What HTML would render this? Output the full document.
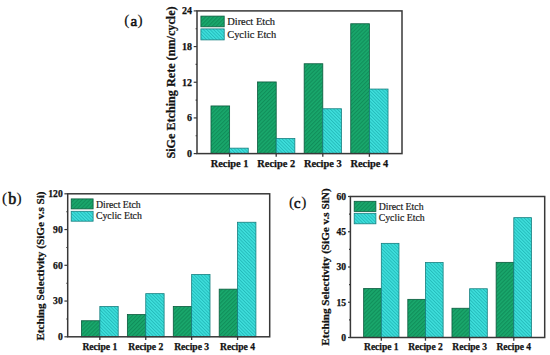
<!DOCTYPE html>
<html><head><meta charset="utf-8"><style>
html,body{margin:0;padding:0;background:#fff;width:550px;height:355px;overflow:hidden}
svg{display:block;font-family:"Liberation Serif", serif;fill:#111}
text{stroke:#111;stroke-width:0.25px}
</style></head><body>
<svg width="550" height="355" viewBox="0 0 550 355">
<defs>
<pattern id="hg" patternUnits="userSpaceOnUse" width="2.8" height="2.8" patternTransform="rotate(45)">
<rect width="2.8" height="2.8" fill="#19a86c"/><rect x="0" y="0" width="1.1" height="2.8" fill="#118e5a"/></pattern>
<pattern id="hc" patternUnits="userSpaceOnUse" width="2.4" height="2.4" patternTransform="rotate(-45)">
<rect width="2.4" height="2.4" fill="#3edfdc"/><rect x="0" y="0" width="0.9" height="2.4" fill="#24baba"/></pattern>
</defs>
<rect x="210.98" y="105.95" width="18.64" height="47.65" fill="url(#hg)" stroke="#0a5a3d" stroke-width="0.8"/>
<rect x="229.61" y="148.15" width="18.64" height="5.45" fill="url(#hc)" stroke="#167f7f" stroke-width="0.8"/>
<line x1="229.61" y1="153.6" x2="229.61" y2="156.8" stroke="#383838" stroke-width="1.3"/>
<text x="229.61" y="166.6" font-size="10.4" font-weight="bold" text-anchor="middle">Recipe 1</text>
<rect x="257.57" y="81.95" width="18.64" height="71.65" fill="url(#hg)" stroke="#0a5a3d" stroke-width="0.8"/>
<rect x="276.2" y="138.55" width="18.64" height="15.05" fill="url(#hc)" stroke="#167f7f" stroke-width="0.8"/>
<line x1="276.2" y1="153.6" x2="276.2" y2="156.8" stroke="#383838" stroke-width="1.3"/>
<text x="276.2" y="166.6" font-size="10.4" font-weight="bold" text-anchor="middle">Recipe 2</text>
<rect x="304.16" y="63.75" width="18.64" height="89.85" fill="url(#hg)" stroke="#0a5a3d" stroke-width="0.8"/>
<rect x="322.8" y="108.75" width="18.64" height="44.85" fill="url(#hc)" stroke="#167f7f" stroke-width="0.8"/>
<line x1="322.8" y1="153.6" x2="322.8" y2="156.8" stroke="#383838" stroke-width="1.3"/>
<text x="322.8" y="166.6" font-size="10.4" font-weight="bold" text-anchor="middle">Recipe 3</text>
<rect x="350.75" y="23.75" width="18.64" height="129.85" fill="url(#hg)" stroke="#0a5a3d" stroke-width="0.8"/>
<rect x="369.39" y="89.05" width="18.64" height="64.55" fill="url(#hc)" stroke="#167f7f" stroke-width="0.8"/>
<line x1="369.39" y1="153.6" x2="369.39" y2="156.8" stroke="#383838" stroke-width="1.3"/>
<text x="369.39" y="166.6" font-size="10.4" font-weight="bold" text-anchor="middle">Recipe 4</text>
<rect x="197" y="10.9" width="205" height="142.7" fill="none" stroke="#383838" stroke-width="1.5"/>
<line x1="193.7" y1="153.6" x2="197" y2="153.6" stroke="#383838" stroke-width="1.2"/>
<text x="192" y="157" font-size="10" font-weight="bold" text-anchor="end">0</text>
<line x1="195.6" y1="135.76" x2="197" y2="135.76" stroke="#383838" stroke-width="1.1"/>
<line x1="193.7" y1="117.92" x2="197" y2="117.92" stroke="#383838" stroke-width="1.2"/>
<text x="192" y="121.33" font-size="10" font-weight="bold" text-anchor="end">6</text>
<line x1="195.6" y1="100.09" x2="197" y2="100.09" stroke="#383838" stroke-width="1.1"/>
<line x1="193.7" y1="82.25" x2="197" y2="82.25" stroke="#383838" stroke-width="1.2"/>
<text x="192" y="85.65" font-size="10" font-weight="bold" text-anchor="end">12</text>
<line x1="195.6" y1="64.41" x2="197" y2="64.41" stroke="#383838" stroke-width="1.1"/>
<line x1="193.7" y1="46.58" x2="197" y2="46.58" stroke="#383838" stroke-width="1.2"/>
<text x="192" y="49.98" font-size="10" font-weight="bold" text-anchor="end">18</text>
<line x1="195.6" y1="28.74" x2="197" y2="28.74" stroke="#383838" stroke-width="1.1"/>
<line x1="193.7" y1="10.9" x2="197" y2="10.9" stroke="#383838" stroke-width="1.2"/>
<text x="192" y="14.3" font-size="10" font-weight="bold" text-anchor="end">24</text>
<rect x="200.9" y="16.1" width="23.3" height="10.7" fill="url(#hg)" stroke="#0a5a3d" stroke-width="0.8"/>
<rect x="200.9" y="28.9" width="23.3" height="11" fill="url(#hc)" stroke="#167f7f" stroke-width="0.8"/>
<text x="227.2" y="25.2" font-size="10.45" fill="#1a1a1a" style="stroke-width:0.18px">Direct Etch</text>
<text x="227.2" y="37.8" font-size="10.45" fill="#1a1a1a" style="stroke-width:0.18px">Cyclic Etch</text>
<text transform="translate(174.6,82.5) rotate(-90)" font-size="12" font-weight="bold" text-anchor="middle" textLength="152.2" lengthAdjust="spacingAndGlyphs">SiGe Etching Rete (nm/cycle)</text>
<text x="124.2" y="24.9" font-size="15.4" style="stroke-width:0.15px">(</text>
<text x="130.4" y="25.9" font-size="15" style="stroke-width:0.6px">a</text>
<text x="137.6" y="24.9" font-size="15.4" style="stroke-width:0.15px">)</text>
<rect x="81.47" y="320.75" width="18.36" height="16.05" fill="url(#hg)" stroke="#0a5a3d" stroke-width="0.8"/>
<rect x="99.84" y="306.55" width="18.36" height="30.25" fill="url(#hc)" stroke="#167f7f" stroke-width="0.8"/>
<line x1="99.84" y1="336.8" x2="99.84" y2="340" stroke="#383838" stroke-width="1.3"/>
<text x="99.84" y="350.1" font-size="9.6" font-weight="bold" text-anchor="middle">Recipe 1</text>
<rect x="127.38" y="314.55" width="18.36" height="22.25" fill="url(#hg)" stroke="#0a5a3d" stroke-width="0.8"/>
<rect x="145.75" y="293.65" width="18.36" height="43.15" fill="url(#hc)" stroke="#167f7f" stroke-width="0.8"/>
<line x1="145.75" y1="336.8" x2="145.75" y2="340" stroke="#383838" stroke-width="1.3"/>
<text x="145.75" y="350.1" font-size="9.6" font-weight="bold" text-anchor="middle">Recipe 2</text>
<rect x="173.29" y="306.45" width="18.36" height="30.35" fill="url(#hg)" stroke="#0a5a3d" stroke-width="0.8"/>
<rect x="191.65" y="274.55" width="18.36" height="62.25" fill="url(#hc)" stroke="#167f7f" stroke-width="0.8"/>
<line x1="191.65" y1="336.8" x2="191.65" y2="340" stroke="#383838" stroke-width="1.3"/>
<text x="191.65" y="350.1" font-size="9.6" font-weight="bold" text-anchor="middle">Recipe 3</text>
<rect x="219.2" y="289.15" width="18.36" height="47.65" fill="url(#hg)" stroke="#0a5a3d" stroke-width="0.8"/>
<rect x="237.56" y="222.25" width="18.36" height="114.55" fill="url(#hc)" stroke="#167f7f" stroke-width="0.8"/>
<line x1="237.56" y1="336.8" x2="237.56" y2="340" stroke="#383838" stroke-width="1.3"/>
<text x="237.56" y="350.1" font-size="9.6" font-weight="bold" text-anchor="middle">Recipe 4</text>
<rect x="67.7" y="193.8" width="202" height="143" fill="none" stroke="#383838" stroke-width="1.5"/>
<line x1="64.4" y1="336.8" x2="67.7" y2="336.8" stroke="#383838" stroke-width="1.2"/>
<text x="62.7" y="340.2" font-size="9.6" font-weight="bold" text-anchor="end">0</text>
<line x1="66.3" y1="318.93" x2="67.7" y2="318.93" stroke="#383838" stroke-width="1.1"/>
<line x1="64.4" y1="301.05" x2="67.7" y2="301.05" stroke="#383838" stroke-width="1.2"/>
<text x="62.7" y="304.45" font-size="9.6" font-weight="bold" text-anchor="end">30</text>
<line x1="66.3" y1="283.18" x2="67.7" y2="283.18" stroke="#383838" stroke-width="1.1"/>
<line x1="64.4" y1="265.3" x2="67.7" y2="265.3" stroke="#383838" stroke-width="1.2"/>
<text x="62.7" y="268.7" font-size="9.6" font-weight="bold" text-anchor="end">60</text>
<line x1="66.3" y1="247.43" x2="67.7" y2="247.43" stroke="#383838" stroke-width="1.1"/>
<line x1="64.4" y1="229.55" x2="67.7" y2="229.55" stroke="#383838" stroke-width="1.2"/>
<text x="62.7" y="232.95" font-size="9.6" font-weight="bold" text-anchor="end">90</text>
<line x1="66.3" y1="211.68" x2="67.7" y2="211.68" stroke="#383838" stroke-width="1.1"/>
<line x1="64.4" y1="193.8" x2="67.7" y2="193.8" stroke="#383838" stroke-width="1.2"/>
<text x="62.7" y="197.2" font-size="9.6" font-weight="bold" text-anchor="end">120</text>
<rect x="71.2" y="198.9" width="21.9" height="10" fill="url(#hg)" stroke="#0a5a3d" stroke-width="0.8"/>
<rect x="71.2" y="211.3" width="21.9" height="9.9" fill="url(#hc)" stroke="#167f7f" stroke-width="0.8"/>
<text x="95.9" y="207.5" font-size="9.8" fill="#1a1a1a" style="stroke-width:0.18px">Direct Etch</text>
<text x="95.9" y="219.4" font-size="9.8" fill="#1a1a1a" style="stroke-width:0.18px">Cyclic Etch</text>
<text transform="translate(43.5,266) rotate(-90)" font-size="11" font-weight="bold" text-anchor="middle" textLength="149.2" lengthAdjust="spacingAndGlyphs">Etching Selectivity (SiGe v.s Si)</text>
<text x="2" y="202.9" font-size="15.4" style="stroke-width:0.15px">(</text>
<text x="8.2" y="203.9" font-size="16" style="stroke-width:0.6px">b</text>
<text x="16.6" y="202.9" font-size="15.4" style="stroke-width:0.15px">)</text>
<rect x="363.65" y="288.55" width="17.66" height="48.95" fill="url(#hg)" stroke="#0a5a3d" stroke-width="0.8"/>
<rect x="381.31" y="243.35" width="17.66" height="94.15" fill="url(#hc)" stroke="#167f7f" stroke-width="0.8"/>
<line x1="381.31" y1="337.5" x2="381.31" y2="340.7" stroke="#383838" stroke-width="1.3"/>
<text x="381.31" y="350.3" font-size="9.5" font-weight="bold" text-anchor="middle">Recipe 1</text>
<rect x="407.81" y="299.35" width="17.66" height="38.15" fill="url(#hg)" stroke="#0a5a3d" stroke-width="0.8"/>
<rect x="425.47" y="262.55" width="17.66" height="74.95" fill="url(#hc)" stroke="#167f7f" stroke-width="0.8"/>
<line x1="425.47" y1="337.5" x2="425.47" y2="340.7" stroke="#383838" stroke-width="1.3"/>
<text x="425.47" y="350.3" font-size="9.5" font-weight="bold" text-anchor="middle">Recipe 2</text>
<rect x="451.97" y="308.25" width="17.66" height="29.25" fill="url(#hg)" stroke="#0a5a3d" stroke-width="0.8"/>
<rect x="469.63" y="288.75" width="17.66" height="48.75" fill="url(#hc)" stroke="#167f7f" stroke-width="0.8"/>
<line x1="469.63" y1="337.5" x2="469.63" y2="340.7" stroke="#383838" stroke-width="1.3"/>
<text x="469.63" y="350.3" font-size="9.5" font-weight="bold" text-anchor="middle">Recipe 3</text>
<rect x="496.13" y="262.35" width="17.66" height="75.15" fill="url(#hg)" stroke="#0a5a3d" stroke-width="0.8"/>
<rect x="513.79" y="217.65" width="17.66" height="119.85" fill="url(#hc)" stroke="#167f7f" stroke-width="0.8"/>
<line x1="513.79" y1="337.5" x2="513.79" y2="340.7" stroke="#383838" stroke-width="1.3"/>
<text x="513.79" y="350.3" font-size="9.5" font-weight="bold" text-anchor="middle">Recipe 4</text>
<rect x="350.4" y="196.5" width="194.3" height="141" fill="none" stroke="#383838" stroke-width="1.5"/>
<line x1="348" y1="337.5" x2="350.4" y2="337.5" stroke="#383838" stroke-width="1.2"/>
<text x="346.1" y="340.9" font-size="9.6" font-weight="bold" text-anchor="end">0</text>
<line x1="349" y1="319.88" x2="350.4" y2="319.88" stroke="#383838" stroke-width="1.1"/>
<line x1="348" y1="302.25" x2="350.4" y2="302.25" stroke="#383838" stroke-width="1.2"/>
<text x="346.1" y="305.65" font-size="9.6" font-weight="bold" text-anchor="end">15</text>
<line x1="349" y1="284.62" x2="350.4" y2="284.62" stroke="#383838" stroke-width="1.1"/>
<line x1="348" y1="267" x2="350.4" y2="267" stroke="#383838" stroke-width="1.2"/>
<text x="346.1" y="270.4" font-size="9.6" font-weight="bold" text-anchor="end">30</text>
<line x1="349" y1="249.38" x2="350.4" y2="249.38" stroke="#383838" stroke-width="1.1"/>
<line x1="348" y1="231.75" x2="350.4" y2="231.75" stroke="#383838" stroke-width="1.2"/>
<text x="346.1" y="235.15" font-size="9.6" font-weight="bold" text-anchor="end">45</text>
<line x1="349" y1="214.12" x2="350.4" y2="214.12" stroke="#383838" stroke-width="1.1"/>
<line x1="348" y1="196.5" x2="350.4" y2="196.5" stroke="#383838" stroke-width="1.2"/>
<text x="346.1" y="199.9" font-size="9.6" font-weight="bold" text-anchor="end">60</text>
<rect x="354.2" y="201.3" width="21.7" height="10.1" fill="url(#hg)" stroke="#0a5a3d" stroke-width="0.8"/>
<rect x="354.2" y="213.3" width="21.7" height="10.5" fill="url(#hc)" stroke="#167f7f" stroke-width="0.8"/>
<text x="378.7" y="210.1" font-size="9.8" fill="#1a1a1a" style="stroke-width:0.18px">Direct Etch</text>
<text x="378.7" y="221.3" font-size="9.8" fill="#1a1a1a" style="stroke-width:0.18px">Cyclic Etch</text>
<text transform="translate(329.1,267.05) rotate(-90)" font-size="11" font-weight="bold" text-anchor="middle" textLength="157.3" lengthAdjust="spacingAndGlyphs">Etching Selectivity (SiGe v.s SiN)</text>
<text x="289.1" y="207.4" font-size="15.4" style="stroke-width:0.15px">(</text>
<text x="294.1" y="208.4" font-size="14.5" style="stroke-width:0.6px">c</text>
<text x="301.2" y="207.4" font-size="15.4" style="stroke-width:0.15px">)</text>
</svg>
</body></html>
